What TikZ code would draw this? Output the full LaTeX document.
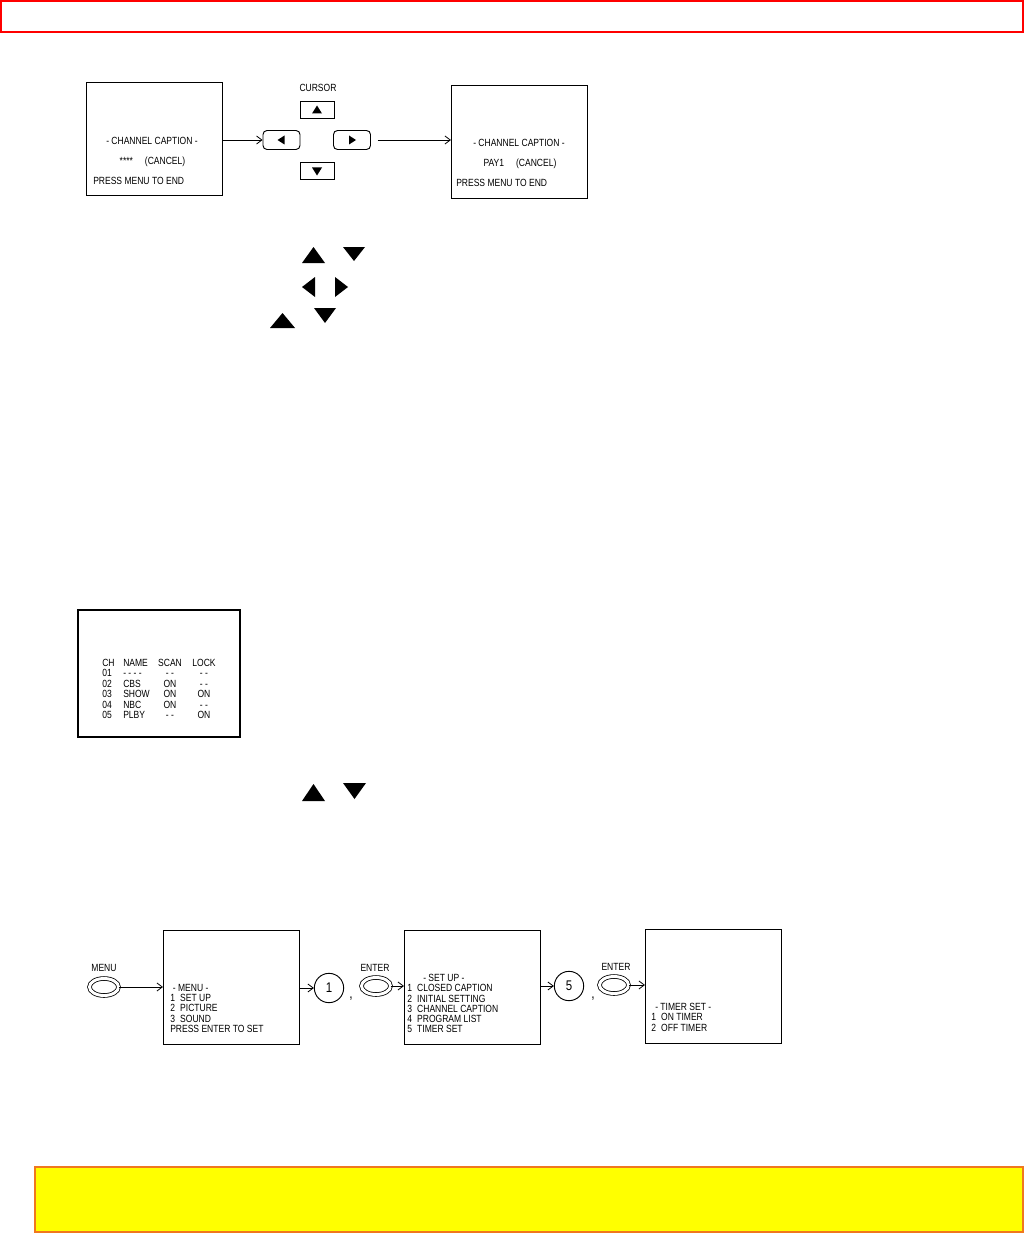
\documentclass[tikz,border=0pt]{standalone}
\usepackage{fontspec}
\newfontfamily\scrfont[FakeStretch=0.82]{Liberation Sans}
\usetikzlibrary{arrows.meta,positioning,calc,shapes.geometric}
\definecolor{hdrred}{RGB}{255,0,0}
\definecolor{notefill}{RGB}{255,255,0}
\definecolor{noteline}{RGB}{240,120,30}

\begin{document}
\begin{tikzpicture}[x=0.75pt,y=-0.75pt,>={Straight Barb[length=4pt,width=6pt]},
    every node/.style={font=\scrfont\fontsize{7.8}{7.7}\selectfont,inner sep=0pt},
    screen/.style={draw,line width=0.8pt,minimum width=102pt,minimum height=85pt},
    key/.style={draw,line width=0.7pt,minimum width=25.5pt,minimum height=12.75pt},
    rkey/.style={key,rounded corners=3pt,minimum width=27.75pt,minimum height=14.25pt},
    btn/.style={draw,ellipse,line width=0.6pt,double,double distance=2.2pt,minimum width=21.75pt,minimum height=12.75pt},
    num/.style={draw,circle,line width=0.7pt,minimum size=22pt,font=\scrfont\fontsize{10.5}{10.5}\selectfont},
    sep/.style={font=\scrfont\fontsize{11}{11}\selectfont},
    link/.style={->,line width=0.6pt}]
  \useasboundingbox (0,0) rectangle (1025,1234);

  % page header
  \draw[hdrred,line width=1.5pt] (1,1) rectangle (1023,32);

  % channel caption screens and cursor keys
  \node[screen] (capa) at (154.5,139) {};
  \node[anchor=base] (capa1) at (152,144.5) {- CHANNEL CAPTION -};
  \node[anchor=base] (capa2) at (152.5,164.5) {****\hspace{9pt}(CANCEL)};
  \node[anchor=base west] (capa3) at (93,184.5) {PRESS MENU TO END};

  \node[anchor=base] (cursor) at (318,91.5) {CURSOR};
  \node[key] (kup) at (317,110) {};
  \node[key] (kdown) at (317,171) {};
  \node[rkey] (kleft) at (281.5,140) {};
  \node[rkey] (kright) at (352,140) {};
  \fill (kup.center) ++(-5,3.5) -- ++(10,0) -- ++(-5,-8) -- cycle;
  \fill (kdown.center) ++(-5,-3.5) -- ++(10,0) -- ++(-5,8) -- cycle;
  \fill (kleft.center) ++(3,-4.5) -- ++(0,9) -- ++(-7,-4.5) -- cycle;
  \fill (kright.center) ++(-3,-4.5) -- ++(0,9) -- ++(7,-4.5) -- cycle;

  \node[screen] (capb) at (519.5,142) {};
  \node[anchor=base] (capb1) at (519,146.5) {- CHANNEL CAPTION -};
  \node[anchor=base] (capb2) at (520,166.5) {PAY1\hspace{9pt}(CANCEL)};
  \node[anchor=base west] (capb3) at (456,186.5) {PRESS MENU TO END};

  \draw[link] (capa.east |- kleft) -- (kleft);
  \coordinate (rstart) at ([xshift=5pt]kright.east);
  \draw[link] (rstart) -- (capb.west |- rstart);

  % loose key symbols
  \foreach \x/\y/\w/\h in {313.5/255/23/16, 282.5/320.5/25/15, 313.5/792.5/23/17}
    \fill (\x-\w/2,\y+\h/2) -- (\x+\w/2,\y+\h/2) -- (\x,\y-\h/2) -- cycle;
  \foreach \x/\y/\w/\h in {354/254/22/14, 325/315.5/22/15, 354.5/791/23/16}
    \fill (\x-\w/2,\y-\h/2) -- (\x+\w/2,\y-\h/2) -- (\x,\y+\h/2) -- cycle;
  \fill (315,277) -- (315,297) -- (302,287) -- cycle;
  \fill (335,277) -- (335,297) -- (348,287) -- cycle;

  % program list screen
  \node[draw,line width=0.8pt,minimum width=121.5pt,minimum height=95.25pt] (plist) at (159,673.5) {};
  \foreach \c/\n/\s/\l [count=\i from 0] in {CH/NAME/SCAN/LOCK,01/- - - -/- -/- -,02/CBS/ON/- -,03/SHOW/ON/ON,04/NBC/ON/- -,05/PLBY/- -/ON}{
    \node[anchor=base west] (ch\i) at (102,666.5+10.4*\i) {\c};
    \node[anchor=base west] (nm\i) at (123,666.5+10.4*\i) {\n};
    \node[anchor=base] (sc\i) at (170,666.5+10.4*\i) {\s};
    \node[anchor=base] (lk\i) at (204,666.5+10.4*\i) {\l};
  }

  % menu -> set up -> timer set
  \node[btn] (mkey) at (104,987) {};
  \node[anchor=base] (mlbl) at (104,971) {MENU};
  \node[screen] (menu) at (231.5,987.5) {};
  \node[anchor=north west,align=left] (menutx) at (170,984) {\hspace{2pt}- MENU -\\1\enspace SET UP\\2\enspace PICTURE\\3\enspace SOUND\\PRESS ENTER TO SET};
  \node[num] (one) at (329,988) {1};
  \node[sep,anchor=base] (dot1) at (351,998) {,};
  \node[anchor=base] (elbl1) at (375,971) {ENTER};
  \node[btn] (ekey1) at (376,986) {};
  \node[screen] (setup) at (472.5,987.5) {};
  \node[anchor=north west,align=left] (setuptx) at (407,974) {\hspace{12pt}- SET UP -\\1\enspace CLOSED CAPTION\\2\enspace INITIAL SETTING\\3\enspace CHANNEL CAPTION\\4\enspace PROGRAM LIST\\5\enspace TIMER SET};
  \node[num] (five) at (569,986) {5};
  \node[sep,anchor=base] (dot2) at (593,998) {,};
  \node[anchor=base] (elbl2) at (616,970) {ENTER};
  \node[btn] (ekey2) at (614,985) {};
  \node[screen] (timer) at (713.5,986.5) {};
  \node[anchor=north west,align=left] (timertx) at (651,1003) {\hspace{3pt}- TIMER SET -\\1\enspace ON TIMER\\2\enspace OFF TIMER};

  \draw[link] (mkey) -- (menu.west |- mkey);
  \draw[link] (menu.east |- one) -- (one);
  \draw[link] (ekey1) -- (setup.west |- ekey1);
  \draw[link] (setup.east |- five) -- (five);
  \draw[link] (ekey2) -- (timer.west |- ekey2);

  % note bar
  \draw[noteline,fill=notefill,line width=1.5pt] (35,1167) rectangle (1023,1232);
\end{tikzpicture}
\end{document}
